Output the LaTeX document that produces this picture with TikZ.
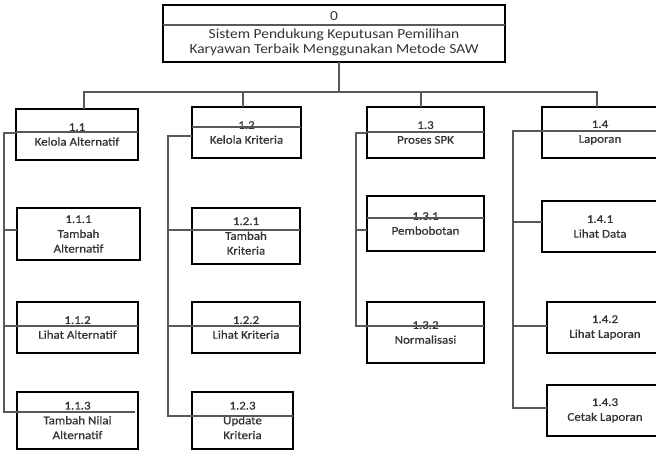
\documentclass[tikz,border=0pt]{standalone}
\usepackage{fontspec}
\setmainfont{Carlito}[FakeStretch=1.12]
\newfontfamily\boxfont{Carlito}[FakeStretch=1.1, FakeBold=0.7]
\begin{document}
\begin{tikzpicture}[x=1pt,y=-1pt,
  box/.style={draw=black, line width=2.8pt, inner sep=0pt, outer sep=0pt, align=center,
    font=\boxfont\fontsize{11.8}{14.8}\selectfont, text=black!80},
  conn/.style={draw=black!65, line width=1.2pt},
  sepline/.style={draw=black!65, line width=1.2pt}]
\clip (0,0) rectangle (656,452);
% boxes
\node[box, minimum width=342pt, minimum height=57pt, font=\fontsize{13.8}{15}\selectfont] (root) at (334,33.5)
  {0\\[3pt]Sistem Pendukung Keputusan Pemilihan\\Karyawan Terbaik Menggunakan Metode SAW};
\node[box, minimum width=122pt, minimum height=51pt] (n11) at (77,134.5) {1.1\\Kelola Alternatif};
\node[box, minimum width=109pt, minimum height=51pt] (n12) at (246.5,132.5) {1.2\\Kelola Kriteria};
\node[box, minimum width=117pt, minimum height=51pt] (n13) at (425.5,132.5) {1.3\\Proses SPK};
\node[box, minimum width=116pt, minimum height=51pt] (n14) at (600,132.5) {1.4\\Laporan};
\node[box, minimum width=123pt, minimum height=52pt] (n111) at (78.5,234) {1.1.1\\Tambah\\Alternatif};
\node[box, minimum width=121pt, minimum height=51pt] (n112) at (77.5,327.5) {1.1.2\\Lihat Alternatif};
\node[box, minimum width=121pt, minimum height=57pt] (n113) at (77.5,420.5) {1.1.3\\Tambah Nilai\\Alternatif};
\node[box, minimum width=108pt, minimum height=56pt] (n121) at (246,236) {1.2.1\\Tambah\\Kriteria};
\node[box, minimum width=108pt, minimum height=51pt] (n122) at (246,327.5) {1.2.2\\Lihat Kriteria};
\node[box, minimum width=101pt, minimum height=57pt] (n123) at (242.5,420.5) {1.2.3\\Update\\Kriteria};
\node[box, minimum width=117pt, minimum height=55pt] (n131) at (425.5,223.5) {1.3.1\\Pembobotan};
\node[box, minimum width=117pt, minimum height=61pt] (n132) at (425.5,332.5) {1.3.2\\Normalisasi};
\node[box, minimum width=116pt, minimum height=51pt] (n141) at (600,226.5) {1.4.1\\Lihat Data};
\node[box, minimum width=116pt, minimum height=51pt] (n142) at (605,327.5) {1.4.2\\Lihat Laporan};
\node[box, minimum width=116pt, minimum height=51pt] (n143) at (605,410.5) {1.4.3\\Cetak Laporan};
% top bus
\coordinate (busL) at (84,92);
\coordinate (busR) at (597,92);
\draw[conn] (root.south -| 339,0) -- (339,92);
\draw[conn] (n11.north -| busL) -- (busL) -- (busR) -- (n14.north -| busR);
\draw[conn] (n12.north -| 243,0) -- (243,92);
\draw[conn] (n13.north -| 421,0) -- (421,92);
% column 1.1
\coordinate (s11a) at (4,133);
\coordinate (s11b) at (4,412);
\draw[conn] (n11.west |- s11a) -- (s11a) -- (s11b) -- (n113.west |- s11b);
\draw[conn] (s11a |- 0,230) -- (n111.west |- 0,230);
\draw[conn] (s11a |- 0,326) -- (n112.west |- 0,326);
\draw[sepline] (n11.west |- 0,132) -- (n11.east |- 0,132);
\draw[sepline] (n112.west |- 0,326) -- (n112.east |- 0,326);
\draw[sepline] (n113.west |- 0,412) -- (135,412);
% column 1.2
\coordinate (s12a) at (168,136);
\coordinate (s12b) at (168,416);
\draw[conn] (n12.west |- s12a) -- (s12a) -- (s12b) -- (n123.west |- s12b);
\draw[conn] (s12a |- 0,230) -- (n121.west |- 0,230);
\draw[conn] (s12a |- 0,326) -- (n122.west |- 0,326);
\draw[sepline] (n12.west |- 0,127) -- (n12.east |- 0,127);
\draw[sepline] (n121.west |- 0,230) -- (n121.east |- 0,230);
\draw[sepline] (n122.west |- 0,326) -- (n122.east |- 0,326);
\draw[sepline] (n123.west |- 0,416) -- (n123.east |- 0,416);
% column 1.3
\coordinate (s13a) at (356,133);
\coordinate (s13b) at (356,326);
\draw[conn] (n13.west |- s13a) -- (s13a) -- (s13b) -- (n132.west |- s13b);
\draw[conn] (s13a |- 0,230) -- (n131.west |- 0,230);
\draw[sepline] (n13.west |- 0,132) -- (n13.east |- 0,132);
\draw[sepline] (n131.west |- 0,218) -- (n131.east |- 0,218);
\draw[sepline] (n132.west |- 0,326) -- (n132.east |- 0,326);
% column 1.4
\coordinate (s14a) at (513,131);
\coordinate (s14b) at (513,408);
\draw[conn] (n14.west |- s14a) -- (s14a) -- (s14b) -- (n143.west |- s14b);
\draw[conn] (s14a |- 0,222) -- (n141.west |- 0,222);
\draw[conn] (s14a |- 0,326) -- (n142.west |- 0,326);
\draw[sepline] (n14.west |- 0,131) -- (n14.east |- 0,131);
% root separator
\draw[sepline] (root.west |- 0,25) -- (root.east |- 0,25);
\end{tikzpicture}
\end{document}
